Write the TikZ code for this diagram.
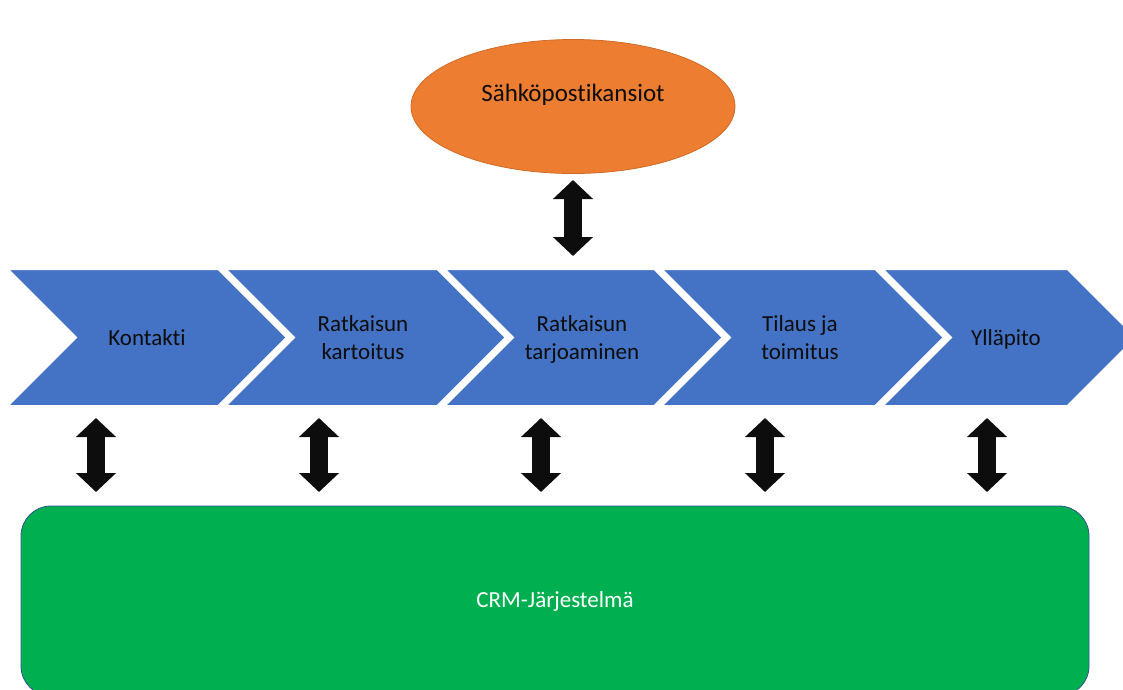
\documentclass[tikz,border=0pt]{standalone}
\usepackage{fontspec}
\setmainfont{Carlito}[Ligatures=NoCommon]
\usetikzlibrary{arrows.meta,shapes.geometric}
\definecolor{chevblue}{HTML}{4472C4}
\definecolor{mailorange}{HTML}{ED7D31}
\definecolor{mailedge}{HTML}{D06A24}
\definecolor{crmgreen}{HTML}{00B050}
\definecolor{crmedge}{HTML}{2F528F}
\definecolor{inkblack}{HTML}{0D0D0D}

\begin{document}
\begin{tikzpicture}[x=1pt,y=-1pt,
  chev/.style={fill=chevblue, draw=white, line width=7pt, line join=miter},
  lbl/.style={font=\fontsize{23}{28}\selectfont, align=center, text=inkblack, inner sep=0pt},
  blockhead/.tip={Triangle[width=39pt 0 0,length=19pt 0 0]},
  dblarrow/.style={line width=18pt, draw=inkblack, blockhead-blockhead},
]
\useasboundingbox (0,0) rectangle (1123,689);

% process chevrons: left edge / top-right corner, point depth 71
\foreach \l/\r in {1.5/219.5, 219.5/438.5, 438.5/655.5, 655.5/876.5, 876.5/1068.5}
  \filldraw[chev] (\l,266.5) -- (\r,266.5) -- ({\r+71},337.5) -- (\r,408.5)
     -- (\l,408.5) -- ({\l+71},337.5) -- cycle;

\node[lbl] (k1) at (147,340) {Kontakti\strut};
\node[lbl] (k2) at (363,340) {Ratkaisun\strut\\kartoitus\strut};
\node[lbl] (k3) at (582,340) {Ratkaisun\strut\\tarjoaminen\strut};
\node[lbl] (k4) at (800,340) {Tilaus ja\strut\\toimitus\strut};
\node[lbl] (k5) at (1006,340) {Ylläpito\strut};

% mail folders
\node[ellipse, minimum width=324pt, minimum height=134pt, inner sep=0pt,
      fill=mailorange, draw=mailedge, line width=0.8pt] (mail) at (573,106.5) {};
\node[lbl, font=\fontsize{25}{30}\selectfont, anchor=base] (mailtxt) at (573,101.5) {Sähköpostikansiot};

% CRM system
\node[fill=crmgreen, draw=crmedge, line width=0.8pt, rounded corners=30pt,
      minimum width=1068pt, minimum height=190pt, inner sep=0pt,
      font=\fontsize{23}{28}\selectfont, text=white] (crm) at (555,601) {CRM-Järjestelmä};

% arrow end points
\coordinate (mtop) at (573,180);
\coordinate (mbot) at (573,256);
\foreach \i/\x in {1/96, 2/319, 3/541, 4/765, 5/987} {
  \coordinate (u\i) at (\x,418);
  \coordinate (d\i) at (\x,492);
}

\draw[dblarrow] (mtop) -- (mbot);
\foreach \i in {1,...,5}
  \draw[dblarrow] (u\i) -- (d\i);
\end{tikzpicture}
\end{document}
